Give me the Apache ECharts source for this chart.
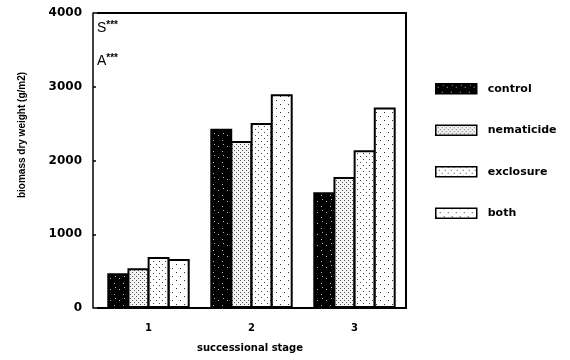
<!DOCTYPE html>
<html><head><meta charset="utf-8">
<script src="https://cdn.jsdelivr.net/npm/echarts@6/dist/echarts.min.js"></script>
<style>html,body{margin:0;padding:0;background:#fff}#c{width:570px;height:360px}</style>
</head><body><div id="c"></div>
<script>
const categories = ['1', '2', '3'];
const seriesNames = ['control', 'nematicide', 'exclosure', 'both'];
const control = [470, 2430, 1570];
const nematicide = [540, 2265, 1775];
const exclosure = [690, 2510, 2140];
const both = [665, 2900, 2720];
const yTicks = [0, 1000, 2000, 3000, 4000];

function pattern(bg, dot, step, size) {
  const c = document.createElement('canvas');
  c.width = step * 2; c.height = step * 2;
  const g = c.getContext('2d');
  g.fillStyle = bg; g.fillRect(0, 0, c.width, c.height);
  g.fillStyle = dot;
  g.fillRect(0, 0, size, size);
  g.fillRect(step, step, size, size);
  return { image: c, repeat: 'repeat' };
}
function speckle() {
  const c = document.createElement('canvas');
  c.width = 9; c.height = 11;
  const g = c.getContext('2d');
  g.fillStyle = '#000'; g.fillRect(0, 0, 9, 11);
  g.fillStyle = '#bbb';
  g.fillRect(2, 3, 1, 1); g.fillRect(6, 8, 1, 1); g.fillRect(7, 1, 1, 1);
  return { image: c, repeat: 'repeat' };
}
const fills = [speckle(), pattern('#f4f4f4', '#555', 2, 1), pattern('#fff', '#444', 3, 1), pattern('#fff', '#333', 4, 1)];
const dataArr = [control, nematicide, exclosure, both];

const chart = echarts.init(document.getElementById('c'));
const font = '"Liberation Sans", Arial, sans-serif';
const wide = '"DejaVu Sans", sans-serif';
chart.setOption({
  animation: false,
  grid: { left: 97, right: 164, top: 13, bottom: 52 },
  legend: {
    orient: 'vertical', left: 435, top: 83, padding: 0, itemWidth: 41, itemHeight: 10, itemGap: 30,
    icon: 'rect',
    data: seriesNames,
    textStyle: { fontFamily: wide, fontSize: 11, fontWeight: 'bold', color: '#000', padding: [0, 0, 0, 6] },
    itemStyle: { borderColor: '#000', borderWidth: 1.5 }
  },
  xAxis: [{
    type: 'category', data: categories,
    axisLine: { lineStyle: { color: '#000', width: 2 } },
    axisTick: { show: false },
    axisLabel: { fontFamily: wide, fontSize: 10, fontWeight: 'bold', color: '#000', margin: 15 }
  }, {
    type: 'category', data: categories, position: 'top',
    axisLine: { show: true, onZero: false, lineStyle: { color: '#000', width: 2 } },
    axisTick: { show: false }, axisLabel: { show: false }
  }],
  yAxis: [{
    type: 'value', min: 0, max: 4000, interval: 1000, offset: 4,
    axisLine: { show: true, lineStyle: { color: '#000', width: 1.5 } },
    axisTick: { show: true, inside: true, length: 3, lineStyle: { color: '#000', width: 1.5 } },
    splitLine: { show: false },
    axisLabel: { fontFamily: wide, fontSize: 12, fontWeight: 'bold', color: '#000', margin: 11,
      formatter: v => yTicks.includes(v) ? String(v) : '' }
  }, {
    type: 'value', min: 0, max: 4000, interval: 1000, position: 'right',
    axisLine: { show: true, onZero: false, lineStyle: { color: '#000', width: 2 } },
    axisTick: { show: false }, axisLabel: { show: false }, splitLine: { show: false }
  }],
  graphic: [
    { type: 'text', left: 97, top: 20, style: { text: '{a|S}{b|***}', rich: { a: { fontFamily: font, fontSize: 14, fill: '#000' }, b: { fontFamily: font, fontSize: 10, fontWeight: 'bold', fill: '#000', verticalAlign: 'top', padding: [0, 0, 6, 0] } } } },
    { type: 'text', left: 97, top: 53, style: { text: '{a|A}{b|***}', rich: { a: { fontFamily: font, fontSize: 14, fill: '#000' }, b: { fontFamily: font, fontSize: 10, fontWeight: 'bold', fill: '#000', verticalAlign: 'top', padding: [0, 0, 6, 0] } } } },
    { type: 'text', x: 22, y: 135, rotation: Math.PI / 2,
      style: { text: 'biomass dry weight (g/m2)', fontFamily: font, fontSize: 10, fontWeight: 'bold', fill: '#000', align: 'center', verticalAlign: 'middle' } },
    { type: 'text', x: 250, y: 348,
      style: { text: 'successional stage', fontFamily: wide, fontSize: 10, fontWeight: 'bold', fill: '#000', align: 'center', verticalAlign: 'middle' } }
  ],
  series: seriesNames.map((n, i) => ({
    name: n, type: 'bar', data: dataArr[i], barGap: '-8%', barCategoryGap: '20%',
    itemStyle: { color: fills[i], borderColor: '#000', borderWidth: 2 }
  }))
});
</script></body></html>
